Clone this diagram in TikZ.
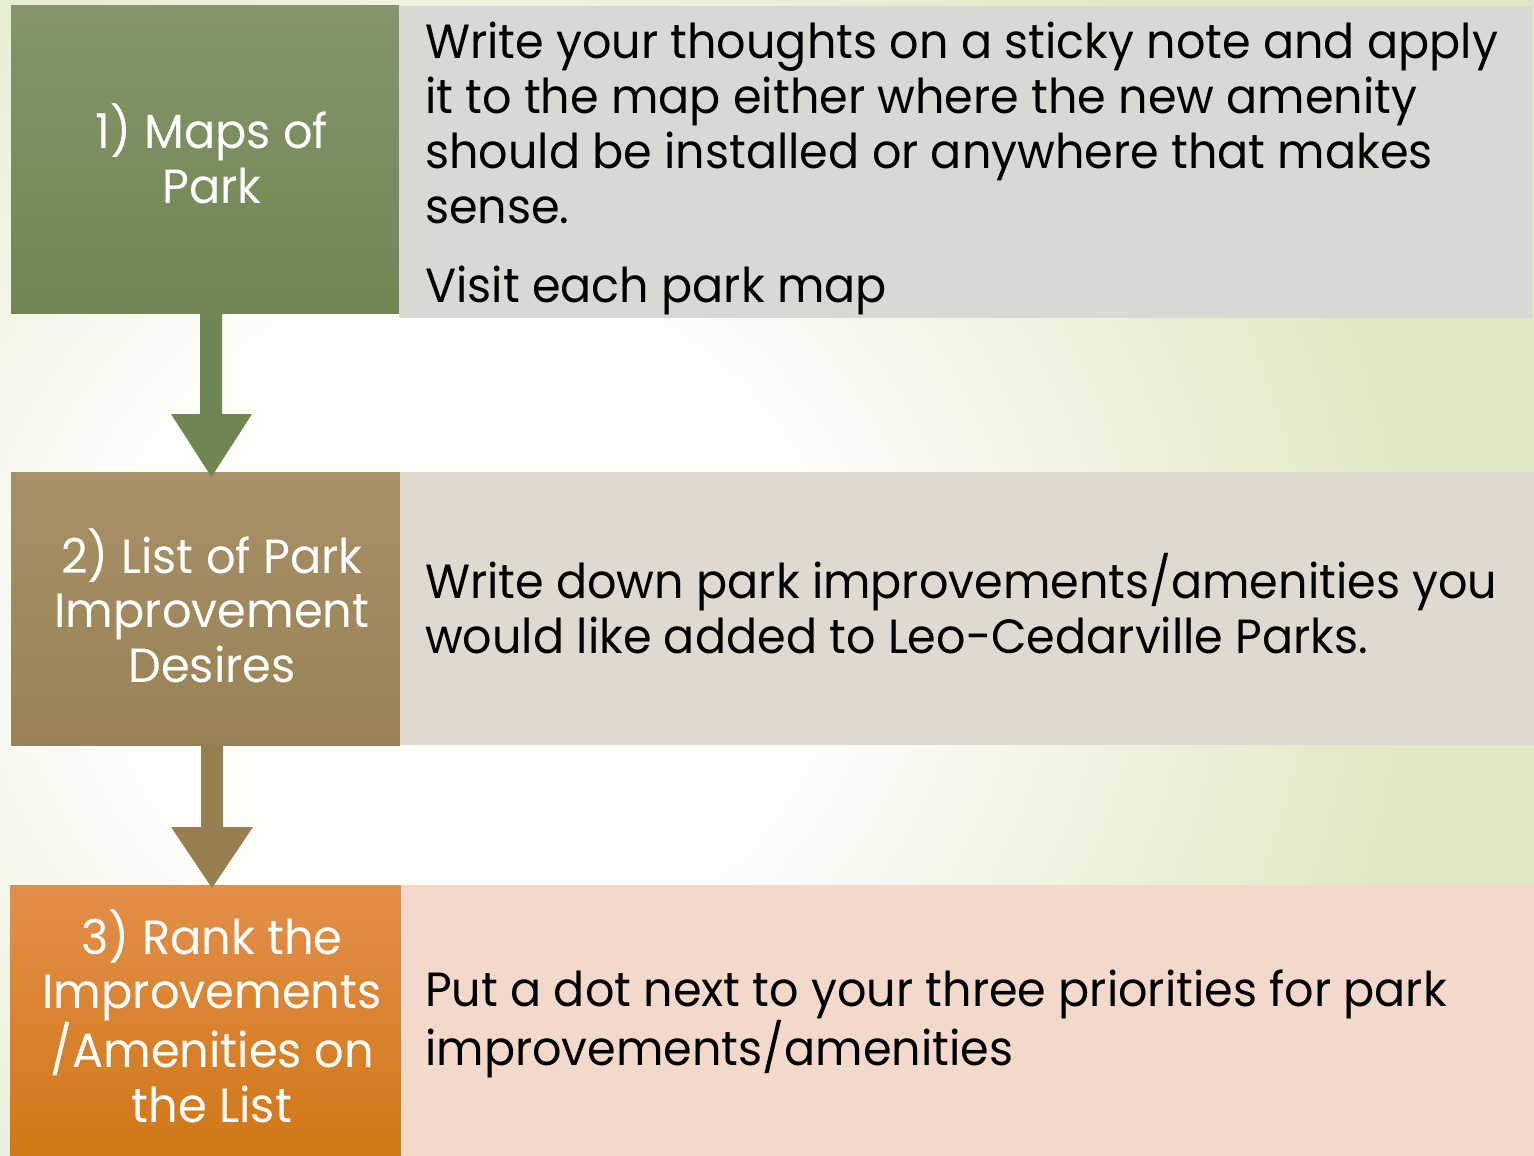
\documentclass[tikz,border=0pt]{standalone}
\usepackage{fontspec}
\setmainfont{Poppins}
\newfontfamily\txtfont[FakeStretch=0.96]{Poppins}
\newfontfamily\lblfont[FakeStretch=0.965]{Poppins}
\usetikzlibrary{calc}
\definecolor{bgin}{HTML}{FDFDFA}
\definecolor{bgout}{HTML}{E0E9C5}
\definecolor{gA}{HTML}{84966A}
\definecolor{gB}{HTML}{708653}
\definecolor{gArr}{HTML}{6E8651}
\definecolor{gR}{HTML}{D7DAD2}
\definecolor{tA}{HTML}{A89067}
\definecolor{tB}{HTML}{9A8256}
\definecolor{tArr}{HTML}{977E50}
\definecolor{tR}{HTML}{E0D9CF}
\definecolor{oA}{HTML}{E38F4A}
\definecolor{oB}{HTML}{D07716}
\definecolor{oR}{HTML}{F3D9CB}
\begin{document}
\begin{tikzpicture}[x=1pt,y=-1pt,
  box/.style={anchor=north west, inner sep=0pt, outer sep=0pt},
  lefttxt/.style={anchor=base, align=center, text=white, inner sep=0pt, font=\lblfont\fontsize{48}{54.5}\selectfont},
  righttxt/.style={anchor=base west, align=left, text=black, inner sep=0pt, font=\txtfont\fontsize{48}{55}\selectfont}]
\useasboundingbox (0,0) rectangle (1534,1156);
\begin{scope}
\clip (0,0) rectangle (1534,1156);
\fill[bgout] (0,0) rectangle (1534,1156);
\foreach \i in {0,...,48}{
  \pgfmathsetmacro{\sc}{1-0.6*\i/48}
  \pgfmathsetmacro{\pc}{100*\i/48}
  \fill[bgin!\pc!bgout] (470,620) ellipse [x radius=\sc*950pt, y radius=\sc*880pt];
}
\end{scope}
% boxes
\node[box, minimum width=388pt, minimum height=307pt, top color=gA, bottom color=gB] (b1) at (11,6) {};
\node[box, minimum width=1133pt, minimum height=312pt, fill=gR] (r1) at (399,6) {};
\node[box, minimum width=389pt, minimum height=273pt, top color=tA, bottom color=tB] (b2) at (11,472) {};
\node[box, minimum width=1134pt, minimum height=273pt, fill=tR] (r2) at (400,472) {};
\node[box, minimum width=391pt, minimum height=271pt, top color=oA, bottom color=oB] (b3) at (10,885) {};
\node[box, minimum width=1133pt, minimum height=271pt, fill=oR] (r3) at (401,885) {};
% arrows
\fill[gArr] ($(b1.south west)+(189,0)$) coordinate (a1s) -- ++(22,0) -- ++(0,101) -- ++(30,0)
  -- ($(b2.north west)+(200.5,5)$) coordinate (a1t) -- ($(b1.south west)+(160,101)$) -- ++(29,0) -- cycle;
\fill[tArr] ($(b2.south west)+(190,0)$) coordinate (a2s) -- ++(22,0) -- ++(0,82) -- ++(30,0)
  -- ($(b3.north west)+(202,3)$) coordinate (a2t) -- ($(b2.south west)+(160,82)$) -- ++(30,0) -- cycle;
% texts (base anchor = last line)
\node[lefttxt] (l1) at (212,203) {1) Maps of\\Park};
\node[lefttxt] (l2) at (212,682) {2) List of Park\\Improvement\\Desires};
\node[lefttxt] (l3) at (212,1122) {3) Rank the\\Improvements\\/Amenities on\\the List};
\node[righttxt] (t1) at (425,302) {Write your thoughts on a sticky note and apply\\it to the map either where the new amenity\\should be installed or anywhere that makes\\sense.\\[24pt]Visit each park map};
\node[righttxt] (t2) at (425,653) {Write down park improvements/amenities you\\would like added to Leo-Cedarville Parks.};
\node[righttxt] (t3) at (425,1065) {Put a dot next to your three priorities for park\\improvements/amenities};
\end{tikzpicture}
\end{document}
